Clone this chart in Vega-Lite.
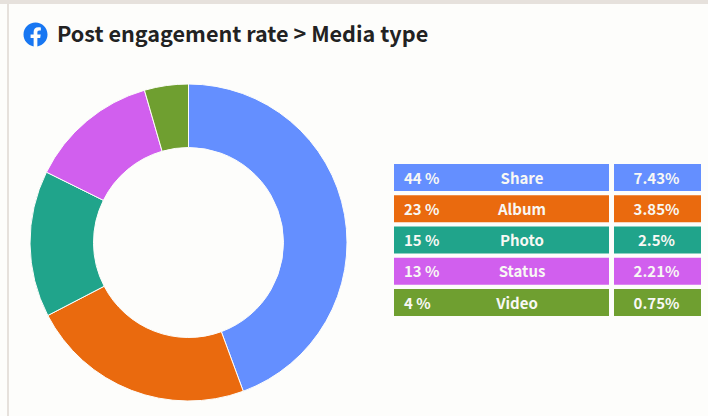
{"$schema":"https://vega.github.io/schema/vega-lite/v6.json","padding":0,"background":"#fdfdfb","bounds":"flush","spacing":0,"config":{"view":{"stroke":null},"font":"Noto Sans CJK SC"},"datasets":{"media":[{"type":"Share","rank":1,"rate":7.43,"share":"44 %","rate_label":"7.43%"},{"type":"Album","rank":2,"rate":3.85,"share":"23 %","rate_label":"3.85%"},{"type":"Photo","rank":3,"rate":2.5,"share":"15 %","rate_label":"2.5%"},{"type":"Status","rank":4,"rate":2.21,"share":"13 %","rate_label":"2.21%"},{"type":"Video","rank":5,"rate":0.75,"share":"4 %","rate_label":"0.75%"}],"one":[{"title":"Post engagement rate > Media type"}]},"vconcat":[{"width":708,"height":84,"data":{"name":"one"},"layer":[{"mark":{"type":"rect","color":"#e6e1dc"},"encoding":{"x":{"value":0},"x2":{"value":708},"y":{"value":0},"y2":{"value":4}}},{"mark":{"type":"rect","color":"#e6e1dc"},"encoding":{"x":{"value":7},"x2":{"value":9},"y":{"value":0},"y2":{"value":84}}},{"mark":{"type":"point","filled":true,"opacity":1,"size":4,"color":"#1877f2","shape":"M24 12.073c0-6.627-5.373-12-12-12s-12 5.373-12 12c0 5.99 4.388 10.954 10.125 11.854v-8.385H7.078v-3.47h3.047V9.43c0-3.007 1.792-4.669 4.533-4.669 1.312 0 2.686.235 2.686.235v2.953H15.83c-1.491 0-1.956.925-1.956 1.874v2.25h3.328l-.532 3.47h-2.796v8.385C19.612 23.027 24 18.062 24 12.073z"},"encoding":{"x":{"value":23.5},"y":{"value":22.5}}},{"mark":{"type":"text","align":"left","baseline":"middle","font":"Noto Sans CJK SC","fontWeight":"bold","fontSize":21.6,"color":"#222222"},"encoding":{"x":{"value":57},"y":{"value":36},"text":{"field":"title"}}}]},{"spacing":5,"bounds":"flush","hconcat":[{"width":389,"height":332,"layer":[{"data":{"name":"one"},"mark":{"type":"rect","color":"#e6e1dc"},"encoding":{"x":{"value":7},"x2":{"value":9},"y":{"value":0},"y2":{"value":332}}},{"data":{"name":"media"},"mark":{"type":"arc","outerRadius":158.5,"innerRadius":95,"stroke":"#fdfdfb","strokeWidth":1},"encoding":{"x":{"value":188.5},"y":{"value":158.5},"theta":{"field":"rate","type":"quantitative","stack":true},"order":{"field":"rank","type":"quantitative"},"color":{"field":"type","type":"nominal","legend":null,"sort":null,"scale":{"domain":["Share","Album","Photo","Status","Video"],"range":["#648fff","#ea6a0e","#20a48b","#d15fee","#6f9f30"]}}}}]},{"width":215,"height":332,"data":{"name":"media"},"encoding":{"y":{"field":"type","type":"nominal","axis":null,"sort":["Share","Album","Photo","Status","Video"],"scale":{"range":[80,232],"paddingInner":0.136,"paddingOuter":0}}},"layer":[{"mark":{"type":"bar","orient":"horizontal","cornerRadius":0},"encoding":{"x":{"value":0},"x2":{"value":215},"color":{"field":"type","type":"nominal","legend":null,"scale":{"domain":["Share","Album","Photo","Status","Video"],"range":["#648fff","#ea6a0e","#20a48b","#d15fee","#6f9f30"]}}}},{"mark":{"type":"text","align":"left","baseline":"middle","dy":1,"fontWeight":"bold","fontSize":15,"color":"#f8f8f4"},"encoding":{"x":{"value":10},"text":{"field":"share"}}},{"transform":[{"filter":"datum.type !== 'Video'"}],"mark":{"type":"text","align":"center","baseline":"middle","dy":1,"fontWeight":"bold","fontSize":15,"color":"#f8f8f4"},"encoding":{"x":{"value":128},"text":{"field":"type"}}},{"transform":[{"filter":"datum.type === 'Video'"}],"mark":{"type":"text","align":"center","baseline":"middle","dy":1,"fontWeight":"bold","fontSize":15,"color":"#f8f8f4"},"encoding":{"x":{"value":123},"text":{"field":"type"}}}]},{"width":87,"height":332,"data":{"name":"media"},"encoding":{"y":{"field":"type","type":"nominal","axis":null,"sort":["Share","Album","Photo","Status","Video"],"scale":{"range":[80,232],"paddingInner":0.136,"paddingOuter":0}}},"layer":[{"mark":{"type":"bar","orient":"horizontal"},"encoding":{"x":{"value":0},"x2":{"value":87},"color":{"field":"type","type":"nominal","legend":null,"scale":{"domain":["Share","Album","Photo","Status","Video"],"range":["#648fff","#ea6a0e","#20a48b","#d15fee","#6f9f30"]}}}},{"mark":{"type":"text","align":"center","baseline":"middle","dy":1,"fontWeight":"bold","fontSize":15,"color":"#f8f8f4"},"encoding":{"x":{"value":42.5},"text":{"field":"rate_label"}}}]}]}]}
